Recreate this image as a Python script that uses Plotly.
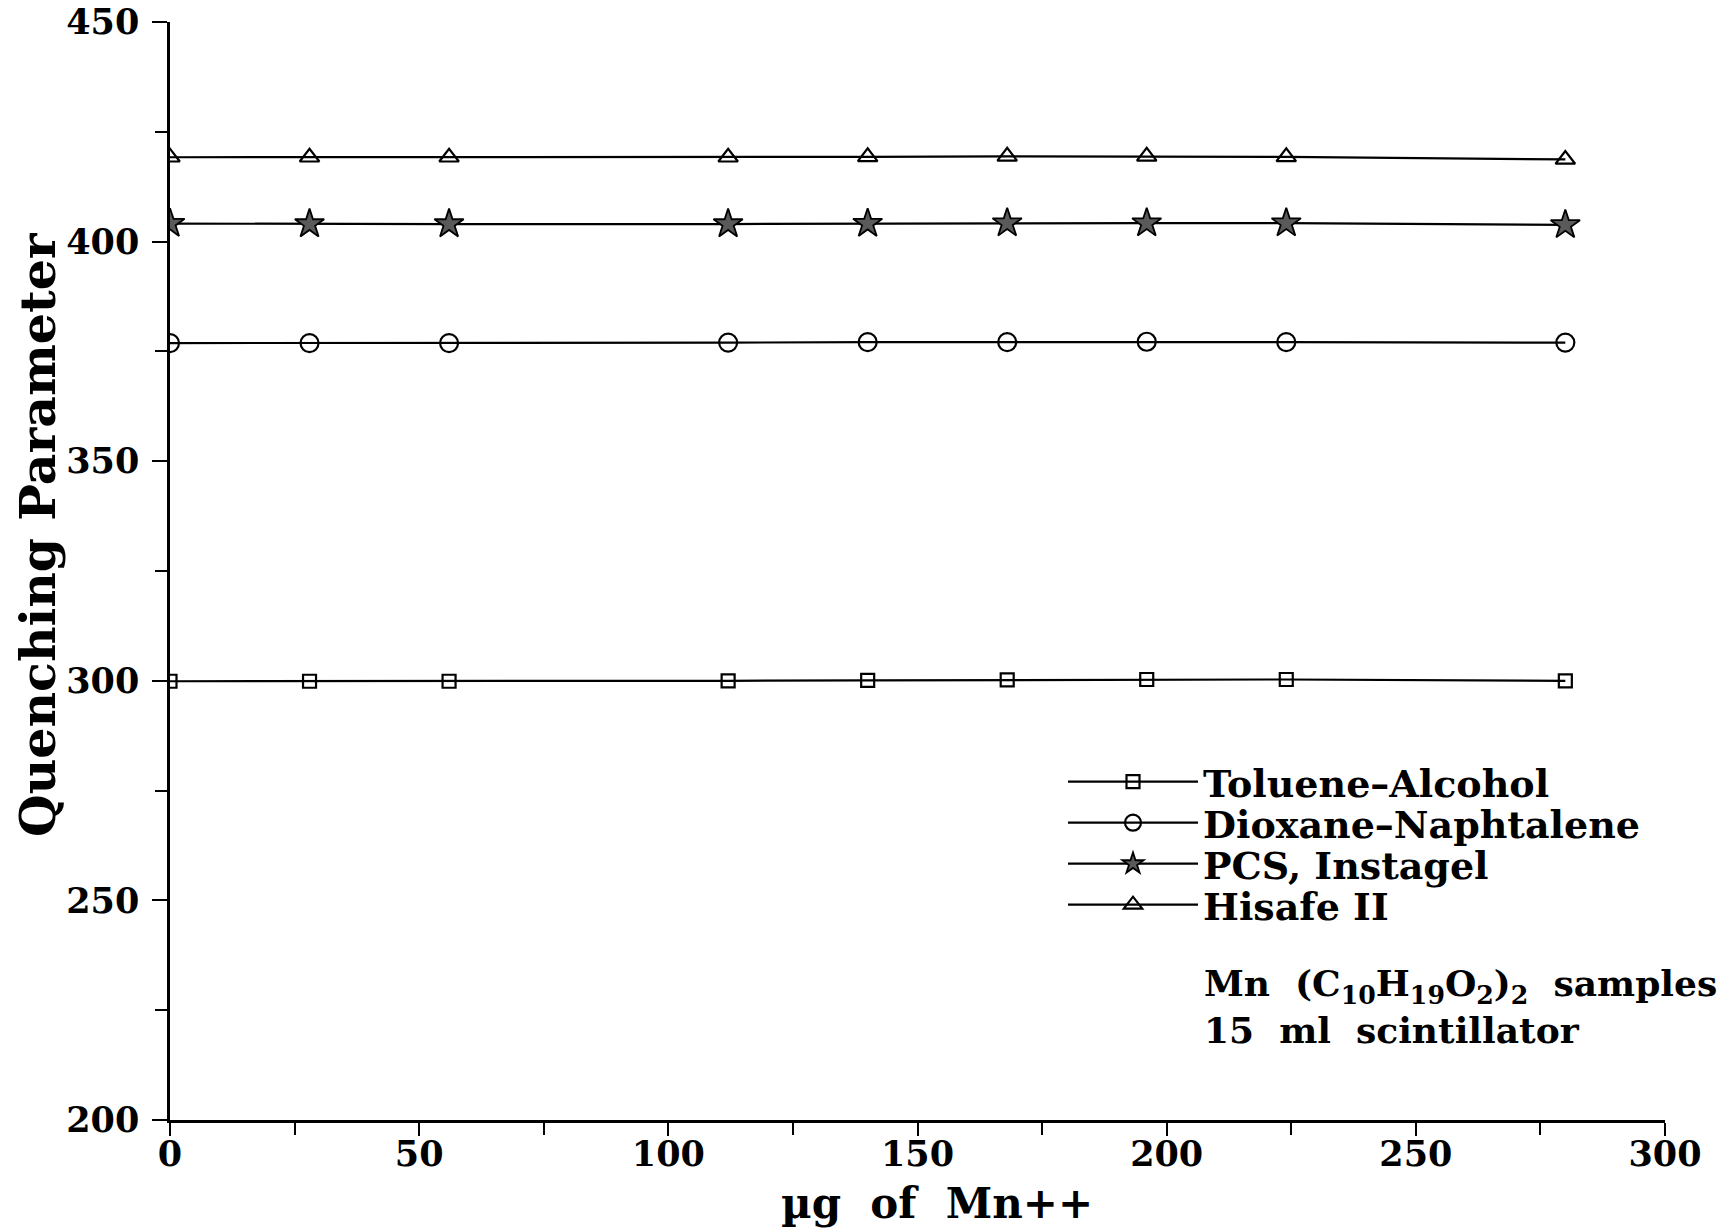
import plotly.graph_objects as go

# ---- data ----
mn_ug = [0, 28, 56, 112, 140, 168, 196, 224, 280]
toluene_alcohol = [299.9, 299.9, 299.9, 300.0, 300.1, 300.2, 300.3, 300.3, 300.0]
dioxane_naphtalene = [376.9, 376.9, 376.9, 377.0, 377.1, 377.1, 377.2, 377.1, 377.0]
pcs_instagel = [404.1, 404.0, 404.0, 404.0, 404.1, 404.2, 404.2, 404.2, 403.8]
hisafe_ii = [419.2, 419.2, 419.2, 419.2, 419.3, 419.4, 419.4, 419.3, 418.7]

series_names = ["Toluene–Alcohol", "Dioxane–Naphtalene", "PCS, Instagel", "Hisafe II"]
x_ticks = [0, 50, 100, 150, 200, 250, 300]
y_ticks = [200, 250, 300, 350, 400, 450]

FONT = "DejaVu Serif"
W, H = 1732, 1229
L, R, T, B = 170, 67, 22, 109
PW, PH = W - L - R, H - T - B

fig = go.Figure()
styles = [
    dict(symbol="square-open", size=13, color="black", line=dict(width=2.2, color="black")),
    dict(symbol="circle-open", size=18, color="black", line=dict(width=2.2, color="black")),
    dict(symbol="star", size=22, color="#5a5a5a", line=dict(width=1.8, color="black")),
    dict(symbol="triangle-up-open", size=17, color="black", line=dict(width=2.2, color="black")),
]
legend_ids = ["legend", "legend2", "legend3", "legend4"]
for name, ys, st, lg in zip(series_names, [toluene_alcohol, dioxane_naphtalene, pcs_instagel, hisafe_ii],
                            styles, legend_ids):
    fig.add_trace(go.Scatter(
        x=mn_ug, y=ys, name=name, mode="lines+markers",
        line=dict(color="black", width=2.2),
        marker=st, legend=lg,
    ))

axis_common = dict(
    showgrid=False, zeroline=False, showline=True, linecolor="black", linewidth=2.5,
    ticks="outside", tickwidth=2, tickcolor="black", automargin=False,
    tickfont=dict(family=FONT, size=35, color="black", weight="bold"),
)
fig.update_xaxes(range=[0, 300], tickvals=x_ticks, ticklen=13, ticklabelstandoff=-12,
                 minor=dict(ticks="outside", ticklen=12, tickwidth=1.5, tickcolor="black", dtick=25),
                 **axis_common)
fig.update_yaxes(range=[200, 450], tickvals=y_ticks, ticklen=15, ticklabelstandoff=6,
                 minor=dict(ticks="outside", ticklen=12, tickwidth=1.5, tickcolor="black", dtick=25),
                 **axis_common)

fig.add_annotation(text="Quenching Parameter", xref="paper", yref="paper",
                   x=(38 - L) / PW, y=(H - B - 535) / PH, textangle=-90, showarrow=False,
                   xanchor="center", yanchor="middle",
                   font=dict(family=FONT, size=49, color="black", weight="bold"))
fig.add_annotation(text="µg  of  Mn++", xref="paper", yref="paper",
                   x=(937 - L) / PW, y=(H - B - 1203) / PH, yanchor="middle", showarrow=False,
                   font=dict(family=FONT, size=42, color="black", weight="bold"))
fig.add_annotation(text="Mn  (C<sub>10</sub>H<sub>19</sub>O<sub>2</sub>)<sub>2</sub>  samples<br>15  ml  scintillator",
                   xref="paper", yref="paper", x=(1202 - L) / PW, y=(H - B - 960) / PH,
                   xanchor="left", yanchor="top", align="left", showarrow=False,
                   font=dict(family=FONT, size=36, color="black", weight="bold"))

row_centers = [782, 823, 864, 905]
legend_layout = {}
for lg, yc in zip(legend_ids, row_centers):
    legend_layout[lg] = dict(
        x=(1063 - L) / PW, y=(H - B - yc) / PH,
        xanchor="left", yanchor="middle",
        font=dict(family=FONT, size=38, color="black", weight="bold"),
        bgcolor="rgba(0,0,0,0)", itemwidth=130, borderwidth=0,
    )

fig.update_layout(
    width=W, height=H,
    margin=dict(l=L, r=R, t=T, b=B, autoexpand=False),
    paper_bgcolor="white", plot_bgcolor="white",
    showlegend=True,
    **legend_layout,
)

fig.write_html("out.html")
